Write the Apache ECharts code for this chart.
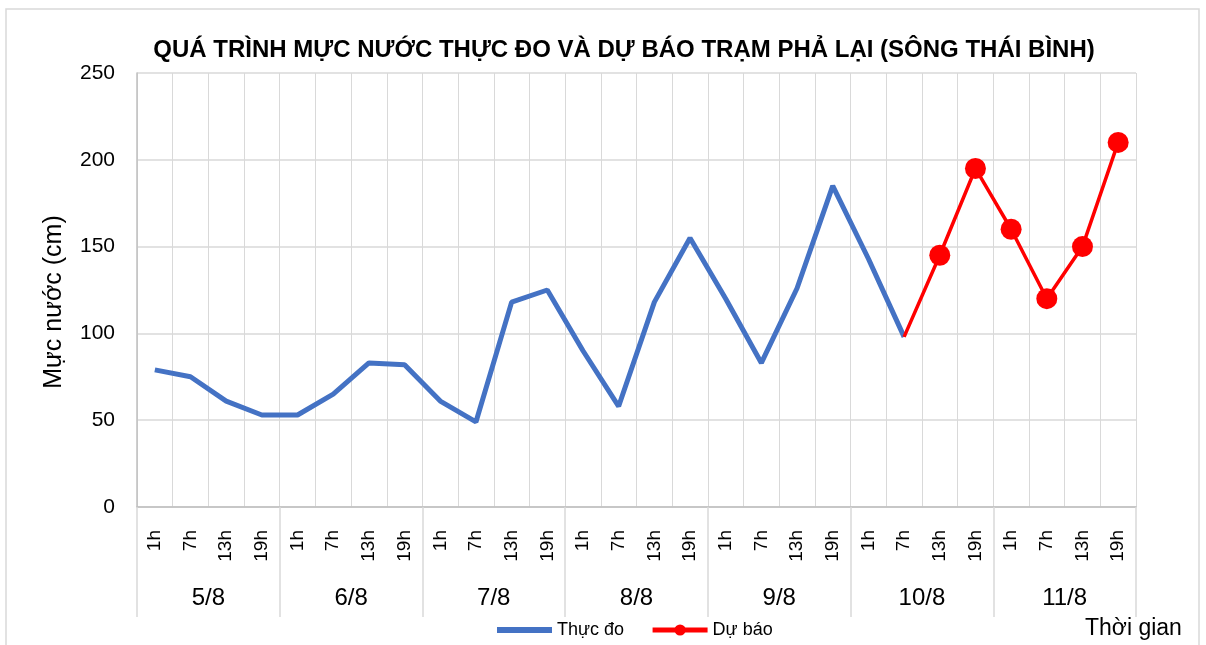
<!DOCTYPE html>
<html>
<head>
<meta charset="utf-8">
<script src="https://cdn.jsdelivr.net/npm/echarts@6/dist/echarts.min.js"></script>
<style>
  html, body { margin: 0; padding: 0; background: #fff; }
  #chart { width: 1206px; height: 645px; }
</style>
</head>
<body>
<div id="chart"></div>
<script>
// giờ quan trắc trong ngày và các ngày
var hours = ["1h", "7h", "13h", "19h"];
var days = ["5/8", "6/8", "7/8", "8/8", "9/8", "10/8", "11/8"];
var yTicks = [0, 50, 100, 150, 200, 250];

// mực nước thực đo (cm), từ 1h 5/8 đến 7h 10/8
var thucDo = [79, 75, 61, 53, 53, 65, 83, 82, 61, 49, 118, 125,
              90, 58, 118, 155, 120, 83, 126, 185, 143, 98];
// mực nước dự báo (cm), từ 7h 10/8 đến 19h 11/8
var duBao = [98, 145, 195, 160, 120, 150, 210];
var duBaoStart = 21;

var categories = [];
days.forEach(function (d) {
  hours.forEach(function (h) { categories.push(h); });
});

var thucDoData = thucDo.slice();
while (thucDoData.length < categories.length) thucDoData.push("-");

var duBaoData = [];
for (var i = 0; i < duBaoStart; i++) duBaoData.push("-");
duBao.forEach(function (v, k) {
  // điểm nối đầu tiên không có chấm tròn
  duBaoData.push(k === 0 ? { value: v, symbol: "none" } : v);
});

var FONT = "'Liberation Sans', Arial, sans-serif";

var myChart = echarts.init(document.getElementById("chart"));
var option = {
  animation: false,
  backgroundColor: "#fff",
  title: {
    text: "QUÁ TRÌNH MỰC NƯỚC THỰC ĐO VÀ DỰ BÁO TRẠM PHẢ LẠI (SÔNG THÁI BÌNH)",
    left: 619,
    top: 33,
    textAlign: "center",
    textStyle: { fontFamily: FONT, fontSize: 24, fontWeight: "bold", color: "#000" }
  },
  legend: {
    top: 616,
    left: 489,
    itemWidth: 55,
    itemHeight: 14,
    itemGap: 26,
    textStyle: { fontFamily: FONT, fontSize: 18, color: "#000" },
    data: [
      { name: "Thực đo", itemStyle: { opacity: 0 }, lineStyle: { width: 6 } },
      { name: "Dự báo", lineStyle: { width: 5 } }
    ]
  },
  grid: { left: 137, right: 70, top: 73, bottom: 138 },
  xAxis: [
    {
      type: "category",
      data: categories,
      boundaryGap: true,
      axisLine: { show: true, lineStyle: { color: "#bfbfbf", width: 1.5 } },
      axisTick: { show: false },
      axisLabel: {
        interval: 0, rotate: 90, margin: 23,
        fontFamily: FONT, fontSize: 19, color: "#000"
      },
      splitLine: { show: true, interval: 0, lineStyle: { color: "#d9d9d9" } }
    },
    {
      type: "category",
      data: days,
      position: "bottom",
      boundaryGap: true,
      axisLine: { show: false },
      axisTick: { show: true, interval: 0, length: 110, lineStyle: { color: "#d9d9d9", width: 1.5 } },
      axisLabel: { interval: 0, margin: 79, fontFamily: FONT, fontSize: 24, color: "#000" },
      splitLine: { show: false }
    }
  ],
  yAxis: {
    type: "value",
    min: yTicks[0],
    max: yTicks[yTicks.length - 1],
    interval: 50,
    name: "Mực nước (cm)",
    nameLocation: "middle",
    nameGap: 70,
    nameTextStyle: { fontFamily: FONT, fontSize: 25, color: "#000", padding: [0, 24, 0, 0] },
    axisLine: { show: true, lineStyle: { color: "#bfbfbf", width: 1.5 } },
    axisTick: { show: false },
    axisLabel: { margin: 22, fontFamily: FONT, fontSize: 21, color: "#000" },
    splitLine: { show: true, lineStyle: { color: "#d9d9d9", width: 1.5 } }
  },
  series: [
    {
      name: "Thực đo",
      type: "line",
      data: thucDoData,
      symbol: "none",
      itemStyle: { color: "#4472C4" },
      lineStyle: { color: "#4472C4", width: 5 },
      z: 3
    },
    {
      name: "Dự báo",
      type: "line",
      data: duBaoData,
      symbol: "circle",
      symbolSize: 21,
      itemStyle: { color: "#FF0000" },
      lineStyle: { color: "#FF0000", width: 3.5 },
      z: 4
    }
  ],
  graphic: [
    {
      type: "rect",
      shape: { x: 6, y: 9, width: 1193, height: 660 },
      style: { fill: "none", stroke: "#d9d9d9", lineWidth: 1.5 },
      silent: true
    },
    {
      type: "text",
      left: 1085,
      top: 617,
      style: { text: "Thời gian", font: "23px 'Liberation Sans', Arial, sans-serif", fill: "#000" }
    }
  ]
};
myChart.setOption(option);
</script>
</body>
</html>
